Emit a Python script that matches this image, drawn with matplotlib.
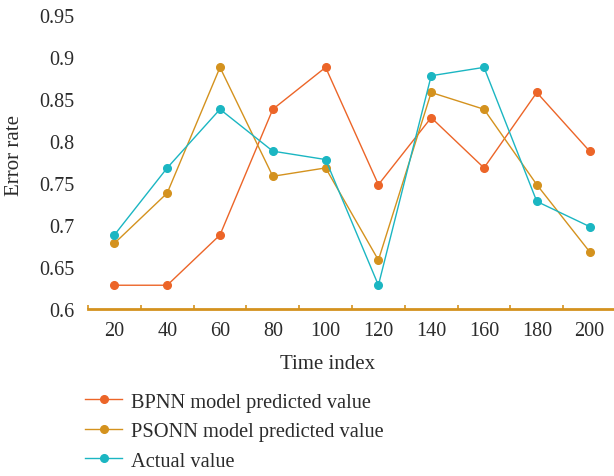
import numpy as np
import matplotlib
matplotlib.use("Agg")
import matplotlib.pyplot as plt

plt.rcParams['font.family'] = ['Liberation Serif', 'DejaVu Serif']

time_index = [20, 40, 60, 80, 100, 120, 140, 160, 180, 200]
bpnn = [0.628, 0.628, 0.688, 0.838, 0.888, 0.748, 0.828, 0.768, 0.858, 0.788]
psonn = [0.678, 0.738, 0.888, 0.758, 0.768, 0.658, 0.858, 0.838, 0.748, 0.668]
actual = [0.688, 0.768, 0.838, 0.788, 0.778, 0.628, 0.878, 0.888, 0.728, 0.698]
yticks = [0.6, 0.65, 0.7, 0.75, 0.8, 0.85, 0.9, 0.95]
ytick_labels = ['0.6', '0.65', '0.7', '0.75', '0.8', '0.85', '0.9', '0.95']

names = ['BPNN model predicted value', 'PSONN model predicted value', 'Actual value']
colors = ['#EC6528', '#D4921E', '#1BB6C2']
txt = '#2b2b2b'

fig = plt.figure(figsize=(6.14, 4.77), dpi=100)
ax = fig.add_axes([88/614, 167.3/477, 528/614, 293.3/477])

x = np.arange(len(time_index))
for vals, name, c in zip([bpnn, psonn, actual], names, colors):
    ax.plot(x, vals, color=c, lw=1.0, marker='o', markersize=5.5, label=name)

ax.set_xlim(-0.5, len(time_index) - 0.5)
ax.set_ylim(0.6, 0.95)
ax.set_yticks(yticks)
ax.set_yticklabels(ytick_labels)
ax.set_xticks(x)
ax.set_xticklabels([str(t) for t in time_index])
ax.set_xticks(np.arange(len(time_index) + 1) - 0.5, minor=True)

for s in ['top', 'right', 'left']:
    ax.spines[s].set_visible(False)
ax.spines['bottom'].set_color('#D4921E')
ax.spines['bottom'].set_linewidth(2.0)

ax.tick_params(axis='y', length=0, pad=10, labelsize=14.5, labelcolor=txt)
ax.tick_params(axis='x', which='major', length=0, pad=9, labelsize=14.5, labelcolor=txt)
ax.tick_params(axis='x', which='minor', direction='in', length=3, width=1.2, color='#D4921E')

ax.set_xlabel('Time index', fontsize=15, color=txt)
ax.xaxis.set_label_coords(0.4536, -0.156)
ax.set_ylabel('Error rate', fontsize=15, color=txt)
ax.yaxis.set_label_coords(-0.121, 0.527)

fig.legend(loc='upper left', bbox_to_anchor=(69/614, 1 - 377/477), frameon=False,
           fontsize=14.7, handlelength=1.8, handletextpad=0.45, labelspacing=0.5,
           borderpad=0.3, labelcolor=txt)

fig.savefig('out.png', dpi=100)
